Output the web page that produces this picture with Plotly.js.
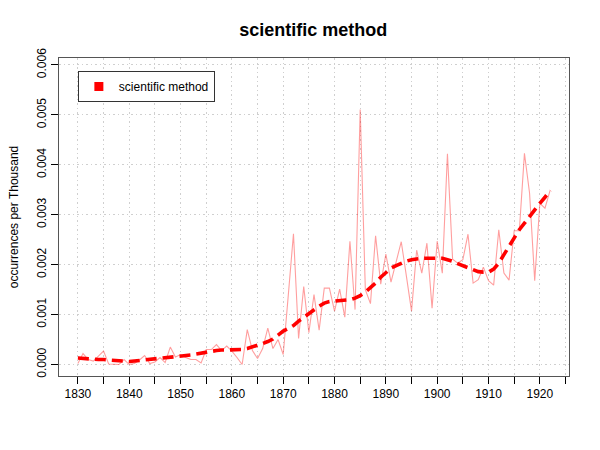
<!DOCTYPE html>
<html>
<head>
<meta charset="utf-8">
<script src="https://cdn.plot.ly/plotly-3.0.1.min.js"></script>
<style>html,body{margin:0;padding:0;background:#fff;}#chart{width:600px;height:450px;}</style>
</head>
<body>
<div id="chart"></div>
<script>
const years = [];
for (let y = 1830; y <= 1922; y++) years.push(y);

const rawValues = [
  0.00002, 0.00022, 0.00010, 0.00007, 0.00017, 0.00027, 0.00001, 0.00000, 0.00000, 0.00010,
  0.00000, 0.00002, 0.00009, 0.00018, 0.00002, 0.00005, 0.00014, 0.00004, 0.00035, 0.00015,
  0.00020, 0.00014, 0.00010, 0.00010, 0.00003, 0.00030, 0.00030, 0.00040, 0.00028, 0.00037,
  0.00027, 0.00014, 0.00000, 0.00070, 0.00028, 0.00012, 0.00032, 0.00073, 0.00032, 0.00050,
  0.00020, 0.00140, 0.00262, 0.00052, 0.00156, 0.00064, 0.00140, 0.00069, 0.00153, 0.00153,
  0.00107, 0.00151, 0.00095, 0.00247, 0.00110, 0.00511, 0.00150, 0.00122, 0.00258, 0.00161,
  0.00221, 0.00165, 0.00203, 0.00246, 0.00177, 0.00107, 0.00229, 0.00183, 0.00243, 0.00113,
  0.00247, 0.00183, 0.00422, 0.00211, 0.00203, 0.00210, 0.00261, 0.00163, 0.00170, 0.00195,
  0.00168, 0.00159, 0.00270, 0.00183, 0.00169, 0.00268, 0.00268, 0.00423, 0.00343, 0.00168,
  0.00323, 0.00313, 0.00349
];

const smoothValues = [
  0.00013, 0.00012, 0.00012, 0.00011, 0.00010, 0.00010, 0.00009, 0.00008, 0.00007, 0.00006,
  0.00006, 0.00007, 0.00008, 0.00009, 0.00010, 0.00012, 0.00013, 0.00014, 0.00015, 0.00016,
  0.00017, 0.00018, 0.00019, 0.00021, 0.00023, 0.00025, 0.00027, 0.00028, 0.00029, 0.00029,
  0.00029, 0.00030, 0.00030, 0.00032, 0.00035, 0.00038, 0.00042, 0.00046, 0.00051, 0.00059,
  0.00067, 0.00072, 0.00078, 0.00087, 0.00095, 0.00103, 0.00111, 0.00117, 0.00123, 0.00126,
  0.00127, 0.00128, 0.00128, 0.00130, 0.00133, 0.00138, 0.00145, 0.00153, 0.00163, 0.00175,
  0.00185, 0.00193, 0.00198, 0.00203, 0.00207, 0.00210, 0.00212, 0.00213, 0.00213, 0.00213,
  0.00213, 0.00213, 0.00210, 0.00207, 0.00202, 0.00198, 0.00193, 0.00189, 0.00186, 0.00185,
  0.00185, 0.00191, 0.00203, 0.00220, 0.00237, 0.00253, 0.00270, 0.00283, 0.00297, 0.00310,
  0.00323, 0.00335, 0.00349
];

const xTickVals = [1830,1835,1840,1845,1850,1855,1860,1865,1870,1875,1880,1885,1890,1895,1900,1905,1910,1915,1920,1925];
const xTickText = ['1830','','1840','','1850','','1860','','1870','','1880','','1890','','1900','','1910','','1920',''];
const yTickVals = [0, 0.001, 0.002, 0.003, 0.004, 0.005, 0.006];
const yTickText = ['0.000','0.001','0.002','0.003','0.004','0.005','0.006'];
const seriesName = 'scientific method';

const font = 'Liberation Sans, Arial, sans-serif';

const traces = [
  {x: years, y: rawValues, type: 'scatter', mode: 'lines',
   line: {color: 'rgba(255,0,0,0.38)', width: 1.1}, showlegend: false, hoverinfo: 'skip'},
  {x: years, y: smoothValues, type: 'scatter', mode: 'lines',
   line: {color: '#ff0000', width: 3.6, dash: '11px,6px'}, showlegend: false},
  {x: [null], y: [null], type: 'scatter', mode: 'markers', name: seriesName,
   marker: {symbol: 'square', color: '#ff0000', size: 9}, showlegend: true}
];

const layout = {
  width: 600, height: 450,
  margin: {l: 59, r: 31, t: 58, b: 74},
  paper_bgcolor: '#fff', plot_bgcolor: '#fff',
  font: {family: font, size: 12, color: '#000'},
  title: {text: '<b>scientific method</b>', font: {family: font, size: 18, color: '#000'},
          x: 0.522, xanchor: 'center', y: 0.933, yanchor: 'middle', yref: 'container'},
  xaxis: {range: [1826.32, 1925.68], tickmode: 'array', tickvals: xTickVals, ticktext: xTickText,
          ticks: 'outside', ticklen: 7, tickcolor: '#000', tickwidth: 1,
          showgrid: true, gridcolor: '#cfcfcf', griddash: '1.5px,3px', gridwidth: 1,
          showline: true, mirror: true, linecolor: '#555', linewidth: 1, zeroline: false,
          tickfont: {family: font, size: 12}},
  yaxis: {range: [-0.00023, 0.00614], tickmode: 'array', tickvals: yTickVals, ticktext: yTickText,
          tickangle: -90, ticks: 'outside', ticklen: 7, tickcolor: '#000', tickwidth: 1,
          showgrid: true, gridcolor: '#cfcfcf', griddash: '1.5px,3px', gridwidth: 1,
          showline: true, mirror: true, linecolor: '#555', linewidth: 1, zeroline: false,
          tickfont: {family: font, size: 12},
          title: {text: 'occurrences per Thousand', font: {family: font, size: 12}, standoff: 14}},
  showlegend: true,
  legend: {x: 0.037, y: 0.959, xanchor: 'left', yanchor: 'top',
           bgcolor: '#fff', bordercolor: '#333', borderwidth: 1,
           font: {family: font, size: 12}}
};

Plotly.newPlot('chart', traces, layout, {staticPlot: true, displayModeBar: false});
</script>
</body>
</html>
